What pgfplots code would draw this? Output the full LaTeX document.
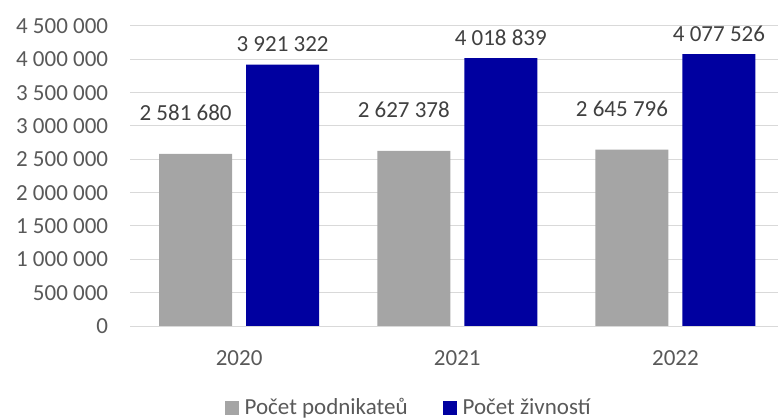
\documentclass[border=0pt]{standalone}
\usepackage{fontspec}
\setmainfont{Carlito}
\usepackage{pgfplots}
\pgfplotsset{compat=1.18}
\definecolor{gbar}{HTML}{A5A5A5}
\definecolor{bbar}{HTML}{0000A0}
\definecolor{ticktxt}{HTML}{595959}
\definecolor{lbl}{HTML}{404040}
\definecolor{gridc}{HTML}{D9D9D9}
\begin{document}
\fontsize{23bp}{27bp}\selectfont
\begin{tikzpicture}
\useasboundingbox (0,0) rectangle (778bp,420bp);
\begin{axis}[
  at={(130bp,94bp)}, anchor=south west,
  scale only axis, width=648bp, height=300bp,
  xmin=-0.5, xmax=2.47, ymin=0, ymax=4500000,
  xtick={0,1,2}, xticklabels={2020,2021,2022},
  ytick={0,500000,1000000,1500000,2000000,2500000,3000000,3500000,4000000,4500000},
  scaled y ticks=false,
  /pgf/number format/assume math mode=true,
  /pgf/number format/fixed,
  /pgf/number format/precision=0,
  /pgf/number format/1000 sep={\ },
  axis line style={draw=none},
  major tick length=0pt,
  ymajorgrids, grid style={gridc, line width=1bp},
  tick label style={ticktxt},
  xticklabel style={yshift=-17bp},
  yticklabel style={xshift=-14bp},
  ybar=14bp, bar width=73bp,
  legend style={at={(axis description cs:0.43,-0.273)}, anchor=center, draw=none, fill=none,
    legend columns=2, text=ticktxt, font=\fontsize{23bp}{27bp}\selectfont,
    /tikz/every even column/.append style={column sep=33bp}},
]
\addplot[fill=gbar, draw=none,
  nodes near coords, nodes near coords style={lbl, yshift=25bp, xshift=-10bp},
  legend image code/.code={\fill[gbar] (0bp,-7bp) rectangle (14bp,7bp); \path (18bp,0bp);}]
  coordinates {(0,2581680) (1,2627378) (2,2645796)};
\addplot[fill=bbar, draw=none,
  nodes near coords, nodes near coords style={lbl, yshift=5bp},
  legend image code/.code={\fill[bbar] (0bp,-7bp) rectangle (14bp,7bp); \path (18bp,0bp);}]
  coordinates {(0,3921322) (1,4018839) (2,4077526)};
\legend{Počet podnikateů, Počet živností}
\end{axis}
\end{tikzpicture}
\end{document}
